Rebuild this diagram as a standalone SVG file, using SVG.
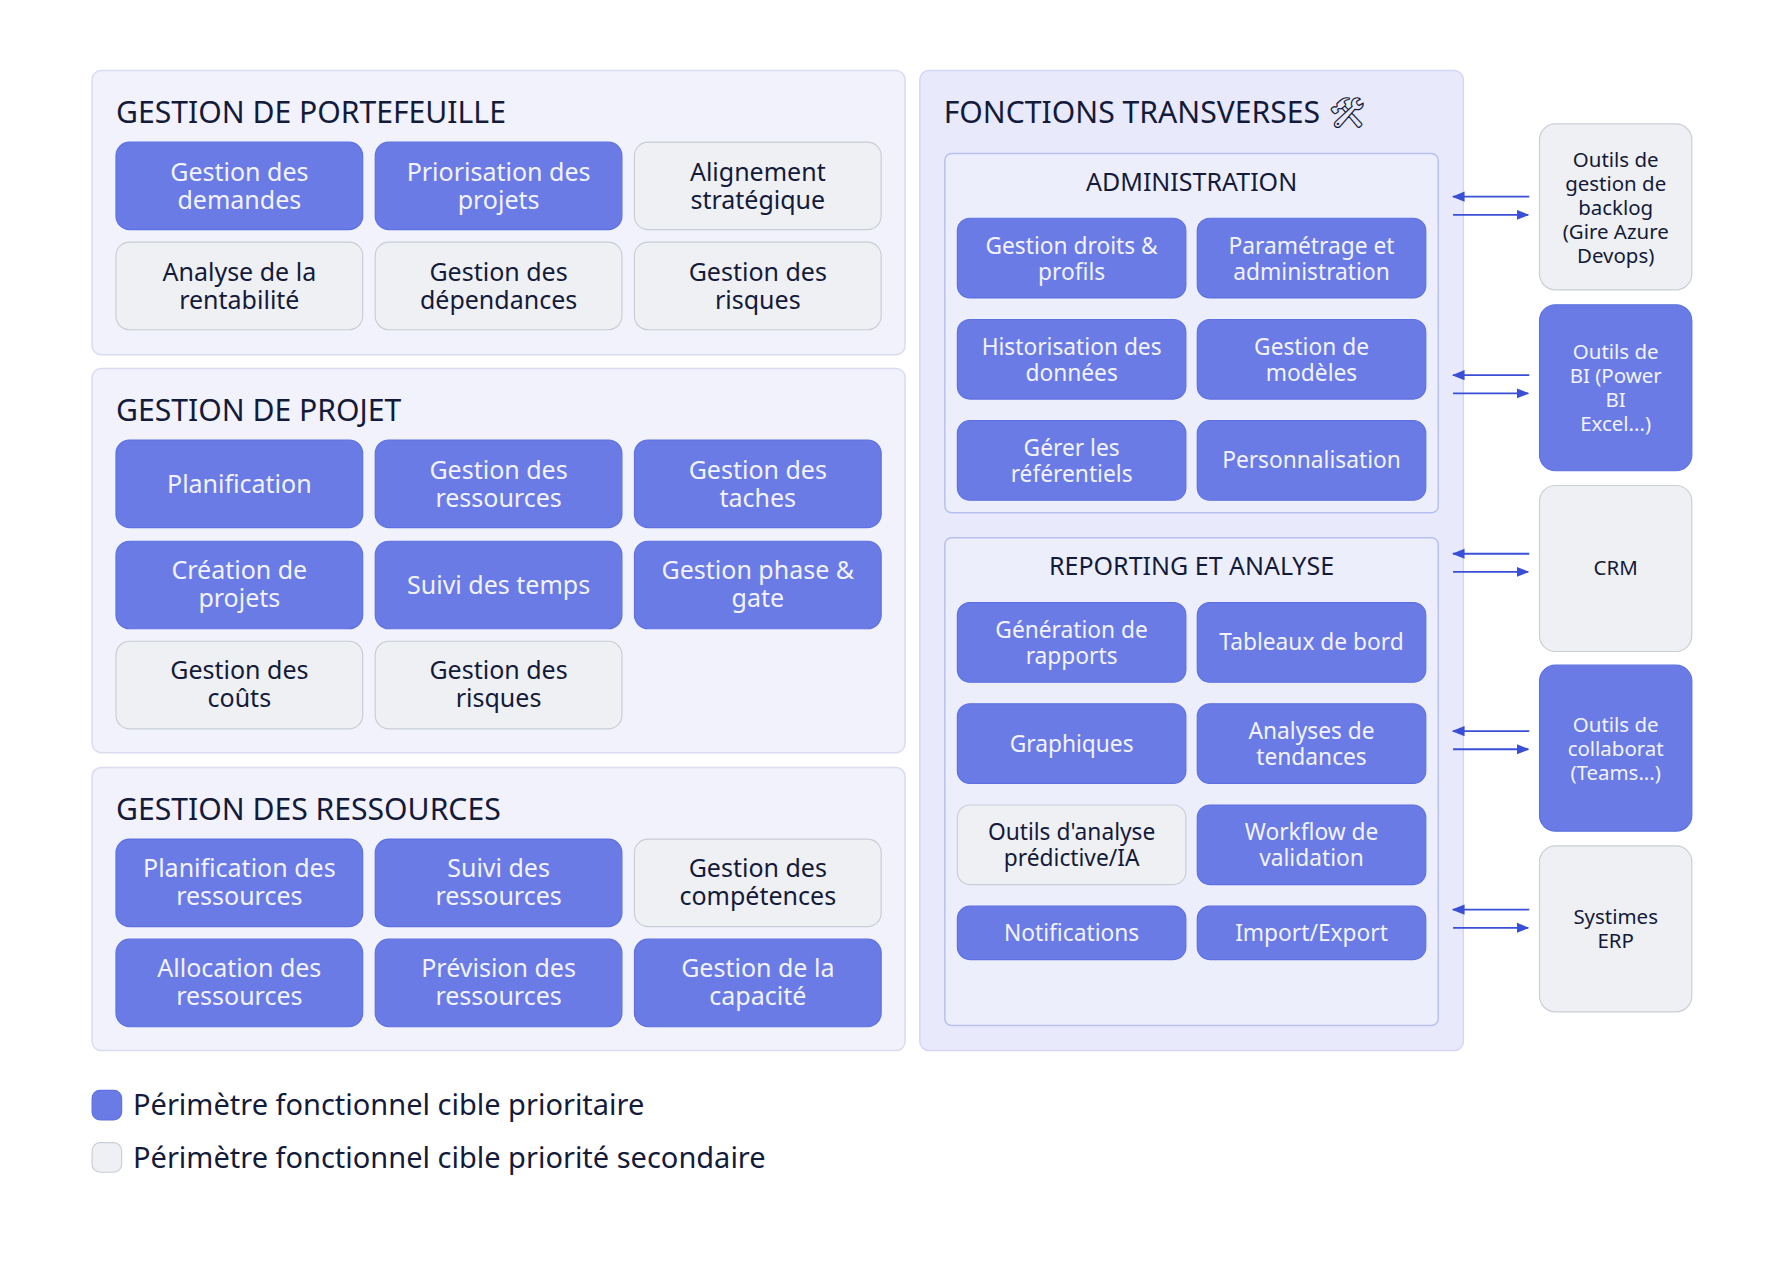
<svg xmlns="http://www.w3.org/2000/svg" width="1781" height="1276" viewBox="0 0 1781 1276">
<style>
text{font-family:"Noto Sans","Liberation Sans",sans-serif}
.panel{fill:#f1f2fb;stroke:#d9dcf0;stroke-width:1.3}
.tpanel{fill:#e8eafc;stroke:#d3d7f3;stroke-width:1.3}
.sub{fill:#eceefc;stroke:#b9c0ee;stroke-width:1.3}
.b{fill:#6a7be6;stroke:#5e70e0;stroke-width:1}
.g{fill:#eef0f3;stroke:#c9cdd5;stroke-width:1}
.h{font-size:26.5px;fill:#141a3a}
.sh{font-size:22px;fill:#141a3a;text-anchor:middle}
.bt{font-size:22px;fill:#f2f3ff;text-anchor:middle}
.gt{font-size:22px;fill:#141a3a;text-anchor:middle}
.st{font-size:18px;text-anchor:middle}
.conn line{stroke:#3a4fd8;stroke-width:1.6}
</style>
<defs><marker id="ah" viewBox="0 0 10 10" refX="9" refY="5" markerWidth="7" markerHeight="7" orient="auto"><path d="M0,1 L10,5 L0,9 z" fill="#3a4fd8"/></marker></defs>
<rect width="1781" height="1276" fill="#fff"/>
<g transform="scale(1.137)">
<g id="portefeuille">
<rect class="panel" x="81" y="62" width="715" height="250" rx="8"/>
<text class="h" x="102" y="108">GESTION DE PORTEFEUILLE</text>
<rect class="b" x="102" y="125" width="217" height="77" rx="12"/><text class="bt" x="210.5" y="159">Gestion des<tspan x="210.5" dy="25">demandes</tspan></text>
<rect class="b" x="330" y="125" width="217" height="77" rx="12"/><text class="bt" x="438.5" y="159">Priorisation des<tspan x="438.5" dy="25">projets</tspan></text>
<rect class="g" x="558" y="125" width="217" height="77" rx="12"/><text class="gt" x="666.5" y="159">Alignement<tspan x="666.5" dy="25">stratégique</tspan></text>
<rect class="g" x="102" y="213" width="217" height="77" rx="12"/><text class="gt" x="210.5" y="247">Analyse de la<tspan x="210.5" dy="25">rentabilité</tspan></text>
<rect class="g" x="330" y="213" width="217" height="77" rx="12"/><text class="gt" x="438.5" y="247">Gestion des<tspan x="438.5" dy="25">dépendances</tspan></text>
<rect class="g" x="558" y="213" width="217" height="77" rx="12"/><text class="gt" x="666.5" y="247">Gestion des<tspan x="666.5" dy="25">risques</tspan></text>
</g>
<g id="projet">
<rect class="panel" x="81" y="324" width="715" height="338" rx="8"/>
<text class="h" x="102" y="370">GESTION DE PROJET</text>
<rect class="b" x="102" y="387" width="217" height="77" rx="12"/><text class="bt" x="210.5" y="434">Planification</text>
<rect class="b" x="330" y="387" width="217" height="77" rx="12"/><text class="bt" x="438.5" y="421">Gestion des<tspan x="438.5" dy="25">ressources</tspan></text>
<rect class="b" x="558" y="387" width="217" height="77" rx="12"/><text class="bt" x="666.5" y="421">Gestion des<tspan x="666.5" dy="25">taches</tspan></text>
<rect class="b" x="102" y="476" width="217" height="77" rx="12"/><text class="bt" x="210.5" y="509">Création de<tspan x="210.5" dy="25">projets</tspan></text>
<rect class="b" x="330" y="476" width="217" height="77" rx="12"/><text class="bt" x="438.5" y="522">Suivi des temps</text>
<rect class="b" x="558" y="476" width="217" height="77" rx="12"/><text class="bt" x="666.5" y="509">Gestion phase &amp;<tspan x="666.5" dy="25">gate</tspan></text>
<rect class="g" x="102" y="564" width="217" height="77" rx="12"/><text class="gt" x="210.5" y="597">Gestion des<tspan x="210.5" dy="25">coûts</tspan></text>
<rect class="g" x="330" y="564" width="217" height="77" rx="12"/><text class="gt" x="438.5" y="597">Gestion des<tspan x="438.5" dy="25">risques</tspan></text>
</g>
<g id="ressources">
<rect class="panel" x="81" y="675" width="715" height="249" rx="8"/>
<text class="h" x="102" y="721">GESTION DES RESSOURCES</text>
<rect class="b" x="102" y="738" width="217" height="77" rx="12"/><text class="bt" x="210.5" y="771">Planification des<tspan x="210.5" dy="25">ressources</tspan></text>
<rect class="b" x="330" y="738" width="217" height="77" rx="12"/><text class="bt" x="438.5" y="771">Suivi des<tspan x="438.5" dy="25">ressources</tspan></text>
<rect class="g" x="558" y="738" width="217" height="77" rx="12"/><text class="gt" x="666.5" y="771">Gestion des<tspan x="666.5" dy="25">compétences</tspan></text>
<rect class="b" x="102" y="826" width="217" height="77" rx="12"/><text class="bt" x="210.5" y="859">Allocation des<tspan x="210.5" dy="25">ressources</tspan></text>
<rect class="b" x="330" y="826" width="217" height="77" rx="12"/><text class="bt" x="438.5" y="859">Prévision des<tspan x="438.5" dy="25">ressources</tspan></text>
<rect class="b" x="558" y="826" width="217" height="77" rx="12"/><text class="bt" x="666.5" y="859">Gestion de la<tspan x="666.5" dy="25">capacité</tspan></text>
</g>
<g id="transverses">
<rect class="tpanel" x="809" y="62" width="478" height="862" rx="8"/>
<text class="h" x="830" y="108">FONCTIONS TRANSVERSES 🛠</text>
</g>
<g id="administration">
<rect class="sub" x="831" y="135" width="434" height="316" rx="6"/>
<text class="sh" x="1048" y="168">ADMINISTRATION</text>
<rect class="b" x="842" y="192" width="201" height="70" rx="11"/><text class="bt" x="942.5" y="223" style="font-size:20px">Gestion droits &amp;<tspan x="942.5" dy="23">profils</tspan></text>
<rect class="b" x="1053" y="192" width="201" height="70" rx="11"/><text class="bt" x="1153.5" y="223" style="font-size:20px">Paramétrage et<tspan x="1153.5" dy="23">administration</tspan></text>
<rect class="b" x="842" y="281" width="201" height="70" rx="11"/><text class="bt" x="942.5" y="312" style="font-size:20px">Historisation des<tspan x="942.5" dy="23">données</tspan></text>
<rect class="b" x="1053" y="281" width="201" height="70" rx="11"/><text class="bt" x="1153.5" y="312" style="font-size:20px">Gestion de<tspan x="1153.5" dy="23">modèles</tspan></text>
<rect class="b" x="842" y="370" width="201" height="70" rx="11"/><text class="bt" x="942.5" y="401" style="font-size:20px">Gérer les<tspan x="942.5" dy="23">référentiels</tspan></text>
<rect class="b" x="1053" y="370" width="201" height="70" rx="11"/><text class="bt" x="1153.5" y="412" style="font-size:20px">Personnalisation</text>
</g>
<g id="reporting">
<rect class="sub" x="831" y="473" width="434" height="429" rx="6"/>
<text class="sh" x="1048" y="506">REPORTING ET ANALYSE</text>
<rect class="b" x="842" y="530" width="201" height="70" rx="11"/><text class="bt" x="942.5" y="561" style="font-size:20px">Génération de<tspan x="942.5" dy="23">rapports</tspan></text>
<rect class="b" x="1053" y="530" width="201" height="70" rx="11"/><text class="bt" x="1153.5" y="572" style="font-size:20px">Tableaux de bord</text>
<rect class="b" x="842" y="619" width="201" height="70" rx="11"/><text class="bt" x="942.5" y="661" style="font-size:20px">Graphiques</text>
<rect class="b" x="1053" y="619" width="201" height="70" rx="11"/><text class="bt" x="1153.5" y="650" style="font-size:20px">Analyses de<tspan x="1153.5" dy="23">tendances</tspan></text>
<rect class="g" x="842" y="708" width="201" height="70" rx="11"/><text class="gt" x="942.5" y="739" style="font-size:20px">Outils d'analyse<tspan x="942.5" dy="23">prédictive/IA</tspan></text>
<rect class="b" x="1053" y="708" width="201" height="70" rx="11"/><text class="bt" x="1153.5" y="739" style="font-size:20px">Workflow de<tspan x="1153.5" dy="23">validation</tspan></text>
<rect class="b" x="842" y="797" width="201" height="47" rx="11"/><text class="bt" x="942.5" y="828" style="font-size:20px">Notifications</text>
<rect class="b" x="1053" y="797" width="201" height="47" rx="11"/><text class="bt" x="1153.5" y="828" style="font-size:20px">Import/Export</text>
</g>
<g id="backlog"><rect class="g" x="1354" y="109" width="134" height="146" rx="14"/><text class="st" fill="#141a3a" x="1421" y="147">Outils de<tspan x="1421" dy="21">gestion de</tspan><tspan x="1421" dy="21">backlog</tspan><tspan x="1421" dy="21">(Gire Azure</tspan><tspan x="1421" dy="21">Devops)</tspan></text></g>
<g id="bi"><rect class="b" x="1354" y="268" width="134" height="146" rx="14"/><text class="st" fill="#f2f3ff" x="1421" y="316">Outils de<tspan x="1421" dy="21">BI (Power</tspan><tspan x="1421" dy="21">BI</tspan><tspan x="1421" dy="21">Excel...)</tspan></text></g>
<g id="crm"><rect class="g" x="1354" y="427" width="134" height="146" rx="14"/><text class="st" fill="#141a3a" x="1421" y="506">CRM</text></g>
<g id="collab"><rect class="b" x="1354" y="585" width="134" height="146" rx="14"/><text class="st" fill="#f2f3ff" x="1421" y="644">Outils de<tspan x="1421" dy="21">collaborat</tspan><tspan x="1421" dy="21">(Teams...)</tspan></text></g>
<g id="erp"><rect class="g" x="1354" y="744" width="134" height="146" rx="14"/><text class="st" fill="#141a3a" x="1421" y="813">Systimes<tspan x="1421" dy="21">ERP</tspan></text></g>
<g class="conn" marker-end="url(#ah)">
<line x1="1345" y1="173" x2="1278" y2="173"/><line x1="1278" y1="189" x2="1344" y2="189"/>
<line x1="1345" y1="330" x2="1278" y2="330"/><line x1="1278" y1="346" x2="1344" y2="346"/>
<line x1="1345" y1="487" x2="1278" y2="487"/><line x1="1278" y1="503" x2="1344" y2="503"/>
<line x1="1345" y1="643" x2="1278" y2="643"/><line x1="1278" y1="659" x2="1344" y2="659"/>
<line x1="1345" y1="800" x2="1278" y2="800"/><line x1="1278" y1="816" x2="1344" y2="816"/>
</g>
<g id="legend">
<rect class="b" x="81" y="959" width="26" height="26" rx="7"/><text x="117" y="981" style="font-size:25.5px;fill:#141a3a">Périmètre fonctionnel cible prioritaire</text>
<rect class="g" x="81" y="1005" width="26" height="26" rx="7"/><text x="117" y="1027" style="font-size:25.5px;fill:#141a3a">Périmètre fonctionnel cible priorité secondaire</text>
</g>
</g>
</svg>
